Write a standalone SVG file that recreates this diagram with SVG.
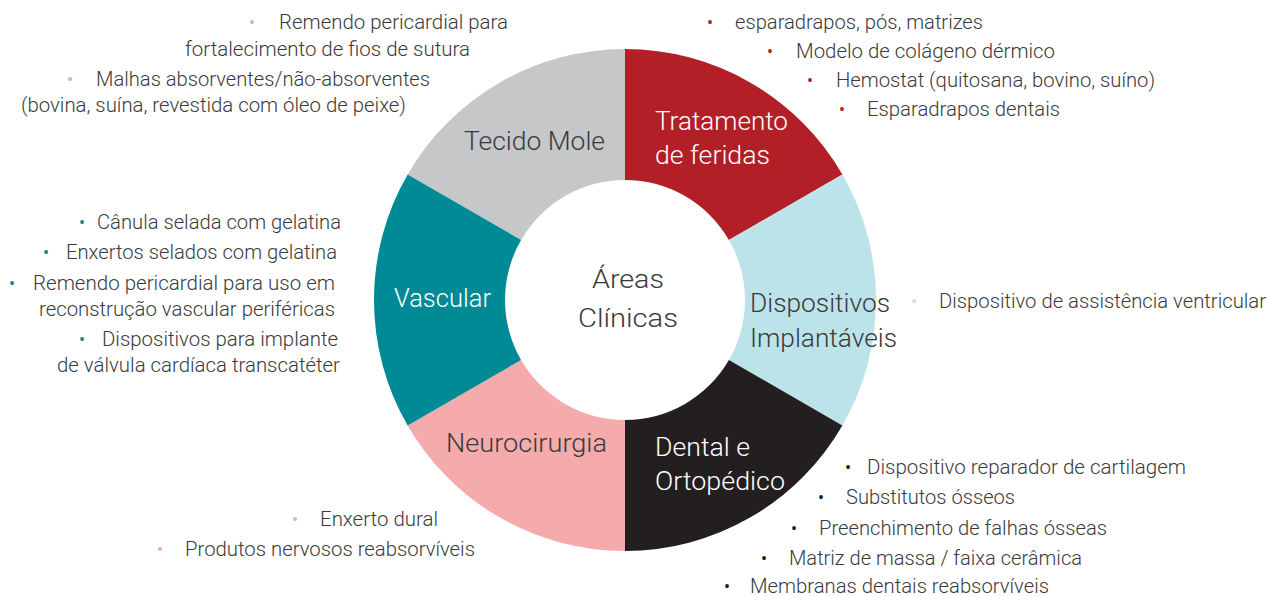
<svg xmlns="http://www.w3.org/2000/svg" width="1269" height="597" viewBox="0 0 1269 597">
<style>
text{font-family:Roboto,"Liberation Sans",sans-serif;font-weight:300;}
.t{font-size:20px;fill:#3a3a3a;}
.l{font-size:25px;fill:#3a3a3a;}
.w{fill:#ffffff;}
.b{font-size:20px;text-anchor:middle;}
.cg{fill:#c6c7c9;}.cr{fill:#b31f27;}.cb{fill:#bce3e9;}.ck{fill:#231f20;}.cp{fill:#f5aaac;}.ct{fill:#008a96;}
.bg{fill:#bdbec0;}
</style>
<rect width="1269" height="597" fill="#ffffff"/>
<g id="tecido-mole">
<path class="cg" d="M407.63 174.5 A251 251 0 0 1 625 49 L625 180 A120 120 0 0 0 521.08 240 Z"/>
<text class="l" x="464" y="150" textLength="141" lengthAdjust="spacingAndGlyphs">Tecido Mole</text>
<text class="b bg" x="252" y="29">•</text>
<text class="t" x="279" y="29" textLength="229" lengthAdjust="spacingAndGlyphs">Remendo pericardial para</text>
<text class="t" x="185" y="56" textLength="285" lengthAdjust="spacingAndGlyphs">fortalecimento de fios de sutura</text>
<text class="b bg" x="70" y="86">•</text>
<text class="t" x="96" y="86" textLength="334" lengthAdjust="spacingAndGlyphs">Malhas absorventes/não-absorventes</text>
<text class="t" x="21" y="112" textLength="385" lengthAdjust="spacingAndGlyphs">(bovina, suína, revestida com óleo de peixe)</text>
</g>
<g id="tratamento-feridas">
<path class="cr" d="M625 49 A251 251 0 0 1 842.37 174.5 L728.92 240 A120 120 0 0 0 625 180 Z"/>
<text class="l w" x="655" y="130" textLength="133" lengthAdjust="spacingAndGlyphs">Tratamento</text>
<text class="l w" x="655" y="164" textLength="115" lengthAdjust="spacingAndGlyphs">de feridas</text>
<text class="b cr" x="710" y="29">•</text>
<text class="t" x="735" y="29" textLength="248" lengthAdjust="spacingAndGlyphs">esparadrapos, pós, matrizes</text>
<text class="b cr" x="770" y="58">•</text>
<text class="t" x="796" y="58" textLength="259" lengthAdjust="spacingAndGlyphs">Modelo de colágeno dérmico</text>
<text class="b cr" x="810" y="87">•</text>
<text class="t" x="836" y="87" textLength="319" lengthAdjust="spacingAndGlyphs">Hemostat (quitosana, bovino, suíno)</text>
<text class="b cr" x="842" y="116">•</text>
<text class="t" x="867" y="116" textLength="193" lengthAdjust="spacingAndGlyphs">Esparadrapos dentais</text>
</g>
<g id="dispositivos-implantaveis">
<path class="cb" d="M842.37 174.5 A251 251 0 0 1 842.37 425.5 L728.92 360 A120 120 0 0 0 728.92 240 Z"/>
<text class="l" x="750" y="312" textLength="140" lengthAdjust="spacingAndGlyphs">Dispositivos</text>
<text class="l" x="750" y="347" textLength="147" lengthAdjust="spacingAndGlyphs">Implantáveis</text>
<text class="b cb" x="914" y="308">•</text>
<text class="t" x="939" y="308" textLength="327" lengthAdjust="spacingAndGlyphs">Dispositivo de assistência ventricular</text>
</g>
<g id="dental-ortopedico">
<path class="ck" d="M842.37 425.5 A251 251 0 0 1 625 551 L625 420 A120 120 0 0 0 728.92 360 Z"/>
<text class="l w" x="655" y="456" textLength="95" lengthAdjust="spacingAndGlyphs">Dental e</text>
<text class="l w" x="655" y="490" textLength="130" lengthAdjust="spacingAndGlyphs">Ortopédico</text>
<text class="b ck" x="848" y="474">•</text>
<text class="t" x="867" y="474" textLength="319" lengthAdjust="spacingAndGlyphs">Dispositivo reparador de cartilagem</text>
<text class="b ck" x="821" y="504">•</text>
<text class="t" x="846" y="504" textLength="169" lengthAdjust="spacingAndGlyphs">Substitutos ósseos</text>
<text class="b ck" x="794" y="535">•</text>
<text class="t" x="819" y="535" textLength="288" lengthAdjust="spacingAndGlyphs">Preenchimento de falhas ósseas</text>
<text class="b ck" x="764" y="565">•</text>
<text class="t" x="789" y="565" textLength="293" lengthAdjust="spacingAndGlyphs">Matriz de massa / faixa cerâmica</text>
<text class="b ck" x="727" y="593">•</text>
<text class="t" x="750" y="593" textLength="299" lengthAdjust="spacingAndGlyphs">Membranas dentais reabsorvíveis</text>
</g>
<g id="neurocirurgia">
<path class="cp" d="M625 551 A251 251 0 0 1 407.63 425.5 L521.08 360 A120 120 0 0 0 625 420 Z"/>
<text class="l" x="446" y="452" textLength="161" lengthAdjust="spacingAndGlyphs">Neurocirurgia</text>
<text class="b cp" x="295" y="526">•</text>
<text class="t" x="320" y="526" textLength="118" lengthAdjust="spacingAndGlyphs">Enxerto dural</text>
<text class="b cp" x="160" y="556">•</text>
<text class="t" x="185" y="556" textLength="290" lengthAdjust="spacingAndGlyphs">Produtos nervosos reabsorvíveis</text>
</g>
<g id="vascular">
<path class="ct" d="M407.63 425.5 A251 251 0 0 1 407.63 174.5 L521.08 240 A120 120 0 0 0 521.08 360 Z"/>
<text class="l w" x="394" y="307" textLength="97" lengthAdjust="spacingAndGlyphs">Vascular</text>
<text class="b ct" x="82" y="229">•</text>
<text class="t" x="97" y="229" textLength="244" lengthAdjust="spacingAndGlyphs">Cânula selada com gelatina</text>
<text class="b ct" x="46" y="259">•</text>
<text class="t" x="66" y="259" textLength="271" lengthAdjust="spacingAndGlyphs">Enxertos selados com gelatina</text>
<text class="b ct" x="12" y="290">•</text>
<text class="t" x="33" y="290" textLength="302" lengthAdjust="spacingAndGlyphs">Remendo pericardial para uso em</text>
<text class="t" x="39" y="316" textLength="296" lengthAdjust="spacingAndGlyphs">reconstrução vascular periféricas</text>
<text class="b ct" x="82" y="346">•</text>
<text class="t" x="102" y="346" textLength="236" lengthAdjust="spacingAndGlyphs">Dispositivos para implante</text>
<text class="t" x="57" y="372" textLength="283" lengthAdjust="spacingAndGlyphs">de válvula cardíaca transcatéter</text>
</g>
<g id="centro">
<text class="l" x="592" y="288" textLength="72" lengthAdjust="spacingAndGlyphs">Áreas</text>
<text class="l" x="578" y="327" textLength="100" lengthAdjust="spacingAndGlyphs">Clínicas</text>
</g>
</svg>
